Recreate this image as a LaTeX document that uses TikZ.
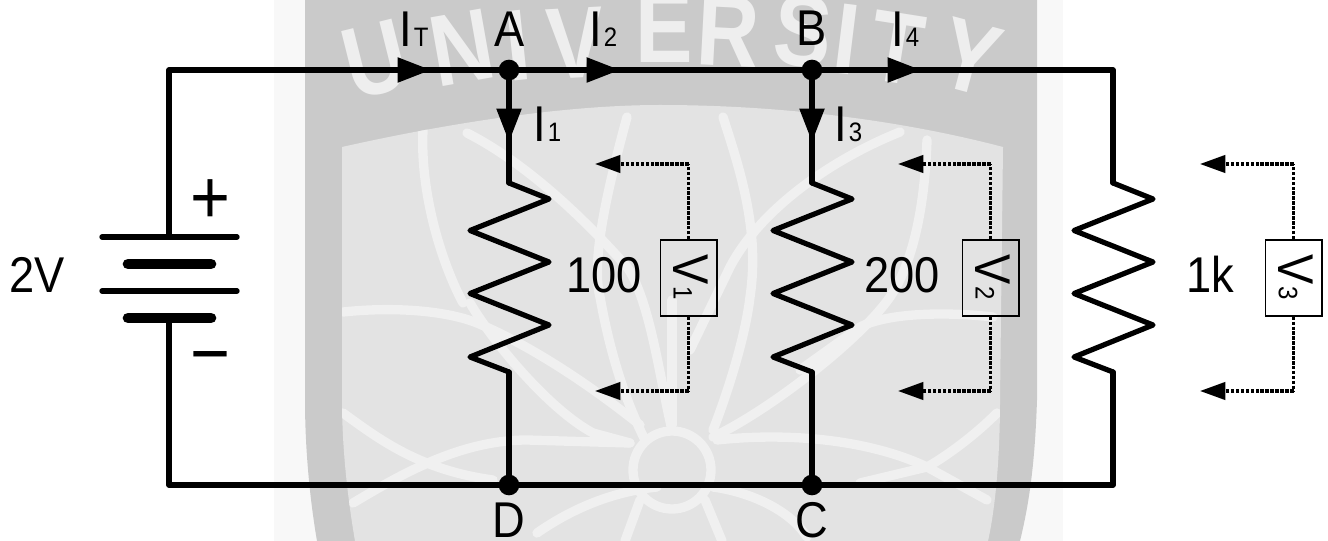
\documentclass[tikz,border=0pt]{standalone}
\usepackage{fontspec}
\usetikzlibrary{arrows.meta}
\newfontfamily\lab[FakeStretch=0.9]{Liberation Sans}
\newfontfamily\wmf[FakeStretch=0.85]{Liberation Sans}
\newcommand{\mainsz}{\fontsize{37.7}{40}\selectfont\lab}
\newcommand{\subsz}{\fontsize{20}{22}\selectfont\lab}
\newcommand{\cur}[1]{{\mainsz I}\kern1.5pt{\subsz #1}}
\newcommand{\volt}[1]{{\mainsz V}\kern1pt{\subsz #1}}
\definecolor{wmband}{HTML}{F8F8F8}
\definecolor{wmgrey}{HTML}{CACACA}
\definecolor{wminner}{HTML}{E3E3E3}
\definecolor{wmline}{HTML}{F0F0F0}
\definecolor{wmletter}{HTML}{EEEEEE}
\tikzset{
  wire/.style={line width=3.9pt,line join=round,line cap=round,black},
  plate/.style={line width=4pt,line cap=round,black},
  thickplate/.style={line width=8pt,line cap=round,black},
  headbig/.style={-{Triangle[length=25pt,width=18pt]}},
  junction/.style={circle,fill=black,inner sep=0pt,minimum size=15.5pt},
  txt/.style={anchor=base west,inner sep=0pt,text=black,font=\mainsz},
  signmark/.style={inner sep=0pt,text=black,font=\fontsize{57}{60}\selectfont\lab},
  meterbox/.style={draw=black,line width=1pt,minimum width=42.5pt,minimum height=57pt,inner sep=0pt},
  probe/.style={line width=2.4pt,dash pattern=on 2.6pt off 1.1pt,black},
  probehead/.style={-{Triangle[length=19pt,width=13pt]},line width=2.4pt,dash pattern=on 2.6pt off 1.1pt,black},
  wmcurve/.style={wmline,line width=7pt,line cap=round,line join=round},
  wmlet/.style={inner sep=0pt,text=wmletter,font=\fontsize{76}{80}\selectfont\wmf\bfseries}
}
\begin{document}
\begin{tikzpicture}[x=0.75pt,y=-0.75pt]
\useasboundingbox (0,0) rectangle (1328,541);
\fill[white] (0,0) rectangle (1328,541);
% watermark
\fill[wmband] (274,0) rectangle (1063,541);
\fill[wmgrey] (305,0) -- (1037,0) -- (1037,400) .. controls (1035,460) and (1030,500) .. (1020,541) -- (317,541) .. controls (310,500) and (305,450) .. (305,400) -- cycle;
\fill[wminner] (342,147) .. controls (440,125) and (560,105) .. (660,105) .. controls (780,105) and (900,120) .. (1003,147) -- (1000,400) .. controls (1000,460) and (995,510) .. (988,541) -- (355,541) .. controls (348,500) and (342,450) .. (342,400) -- cycle;
\begin{scope}
\clip (305,0) rectangle (1037,110);
\node[wmlet,rotate=14] (wmU) at (375,60) {U};
\node[wmlet,rotate=10] (wmN) at (462,48) {N};
\node[wmlet,rotate=6] (wmI) at (518,46) {I};
\node[wmlet,rotate=3] (wmV) at (575,43) {V};
\node[wmlet] (wmE) at (664,28) {E};
\node[wmlet,rotate=-3] (wmR) at (728,31) {R};
\node[wmlet,rotate=-5] (wmS) at (803,31) {S};
\node[wmlet,rotate=-7] (wmI2) at (847,39) {I};
\node[wmlet,rotate=-9] (wmT) at (897,48) {T};
\node[wmlet,rotate=-15] (wmY) at (970,57) {Y};
\end{scope}
\begin{scope}
\clip (342,147) .. controls (440,125) and (560,105) .. (660,105) .. controls (780,105) and (900,120) .. (1003,147) -- (1000,400) .. controls (1000,460) and (995,510) .. (988,541) -- (355,541) .. controls (348,500) and (342,450) .. (342,400) -- cycle;
\draw[wmcurve] (423,130) .. controls (420,190) and (440,260) .. (463,303);
\draw[wmcurve] (467,133) .. controls (530,165) and (590,225) .. (627,267) .. controls (650,300) and (660,380) .. (672,430);
\draw[wmcurve] (627,117) .. controls (610,180) and (590,260) .. (600,297) .. controls (610,353) and (625,400) .. (645,440);
\draw[wmcurve] (343,312) .. controls (400,306) and (450,312) .. (477,323) .. controls (530,345) and (590,385) .. (640,425);
\draw[wmcurve] (470,303) .. controls (495,345) and (550,410) .. (593,433) -- (630,443);
\draw[wmcurve] (343,413) .. controls (380,440) and (420,470) .. (493,480);
\draw[wmcurve] (353,503) .. controls (400,475) and (460,440) .. (527,440) -- (630,443);
\draw[wmcurve] (537,533) .. controls (570,510) and (610,492) .. (657,487);
\draw[wmcurve] (723,117) .. controls (740,170) and (760,230) .. (750,297) .. controls (745,340) and (725,400) .. (713,430);
\draw[wmcurve] (900,132) .. controls (830,160) and (760,210) .. (730,267) -- (690,350);
\draw[wmcurve] (927,140) .. controls (925,200) and (915,260) .. (890,297) .. controls (860,340) and (770,410) .. (713,437);
\draw[wmcurve] (993,317) .. controls (950,312) and (890,312) .. (860,327) -- (800,370);
\draw[wmcurve] (717,440) .. controls (790,432) and (870,440) .. (927,467) -- (987,500);
\draw[wmcurve] (997,413) .. controls (970,440) and (940,460) .. (927,467) -- (860,483);
\draw[wmcurve] (713,487) .. controls (750,492) and (790,510) .. (807,537);
\draw[wmcurve] (672,300) -- (672,425);
\draw[wmcurve] (625,541) -- (640,500);
\draw[wmcurve] (722,541) -- (705,500);
\draw[wmcurve] (672,470) circle[radius=39];
\end{scope}
% circuit coordinates
\node[junction] (A) at (509,70) {};
\node[junction] (B) at (812,70) {};
\node[junction] (D) at (509,485) {};
\node[junction] (C) at (812,485) {};
\coordinate (TL) at (169,70);
\coordinate (BL) at (169,485);
\coordinate (TR) at (1113,70);
\coordinate (BR) at (1113,485);
\coordinate (batT) at (169,237);
\coordinate (batB) at (169,318);
\coordinate (tipT) at (431,70);
\coordinate (tip2) at (620,70);
\coordinate (tip4) at (921,70);
\coordinate (tip1) at (509,142);
\coordinate (tip3) at (812,142);
\coordinate (r1t) at (509,183);
\coordinate (r1b) at (509,372);
\coordinate (r2t) at (812,183);
\coordinate (r2b) at (812,372);
\coordinate (r3t) at (1113,183);
\coordinate (r3b) at (1113,372);
% wires
\draw[wire] (batT) -- (TL) -- (A);
\draw[wire] (A) -- (B);
\draw[wire] (B) -- (TR) -- (r3t);
\draw[wire] (A) -- (r1t);
\draw[wire] (B) -- (r2t);
\draw[wire] (batB) -- (BL) -- (D);
\draw[wire] (D) -- (C);
\draw[wire] (C) -- (BR) -- (r3b);
\draw[wire] (r1b) -- (D);
\draw[wire] (r2b) -- (C);
\foreach \t/\b in {r1t/r1b,r2t/r2b,r3t/r3b}{
  \draw[wire] (\t) -- ++(40,16) -- ++(-79,31.5) -- ++(79,31.5) -- ++(-79,31.5) -- ++(79,31.5) -- ++(-79,32) -- (\b);
}
% current arrows
\draw[wire,line cap=butt,headbig] (TL) -- (tipT);
\draw[wire,line cap=butt,headbig] (A) -- (tip2);
\draw[wire,line cap=butt,headbig] (B) -- (tip4);
\draw[wire,line cap=butt,headbig] (A) -- (tip1);
\draw[wire,line cap=butt,headbig] (B) -- (tip3);
% battery
\draw[plate] (102,237) -- (237,237);
\draw[thickplate] (128,264) -- (211,264);
\draw[plate] (102,291) -- (237,291);
\draw[thickplate] (128,318) -- (211,318);
\node[signmark] (plus) at (210,201.5) {+};
\node[signmark] (minus) at (210,366) {−};
% labels
\node[txt] (lV) at (9,293) {2V};
\node[txt] (lA) at (494,47) {A};
\node[txt] (lB) at (796,46) {B};
\node[txt] (lC) at (795,537) {C};
\node[txt] (lD) at (492,537) {D};
\node[txt] (lIT) at (399,47) {\cur{T}};
\node[txt] (lI2) at (589,47) {\cur{2}};
\node[txt] (lI4) at (891,47) {\cur{4}};
\node[txt] (lI1) at (533,142) {\cur{1}};
\node[txt] (lI3) at (834,142) {\cur{3}};
\node[txt] (l100) at (566,293) {100};
\node[txt] (l200) at (864,293) {200};
\node[txt] (l1k) at (1186,293) {1k};
% meters
\node[meterbox] (m1) at (688.5,278) {};
\node[meterbox] (m2) at (990.5,278) {};
\node[meterbox] (m3) at (1293.5,278) {};
\node[rotate=-90,inner sep=0pt,text=black] (t1) at (691,277) {\volt{1}};
\node[rotate=-90,inner sep=0pt,text=black] (t2) at (993,277) {\volt{2}};
\node[rotate=-90,inner sep=0pt,text=black] (t3) at (1296,277) {\volt{3}};
% probes
\coordinate (u1) at (688.5,164); \coordinate (a1) at (595,164);
\coordinate (d1) at (688.5,391); \coordinate (b1) at (595,391);
\coordinate (u2) at (990.5,164); \coordinate (a2) at (898,164);
\coordinate (d2) at (990.5,391); \coordinate (b2) at (898,391);
\coordinate (u3) at (1293.5,164); \coordinate (a3) at (1200,164);
\coordinate (d3) at (1293.5,391); \coordinate (b3) at (1200,391);
\foreach \m/\u/\a/\d/\b in {m1/u1/a1/d1/b1,m2/u2/a2/d2/b2,m3/u3/a3/d3/b3}{
  \draw[probe] (\m.north) -- (\u);
  \draw[probehead] (\u) -- (\a);
  \draw[probe] (\m.south) -- (\d);
  \draw[probehead] (\d) -- (\b);
}
\end{tikzpicture}
\end{document}
